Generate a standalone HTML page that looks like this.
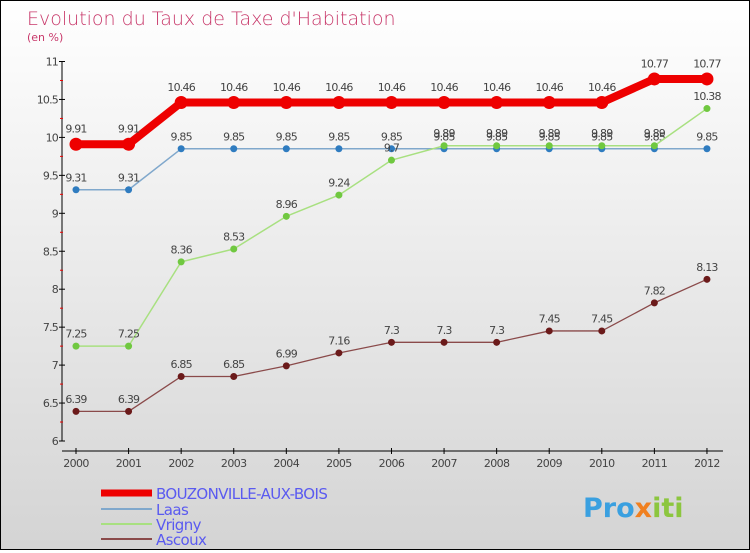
<!DOCTYPE html>
<html><head><meta charset="utf-8"><style>
body{margin:0;}
#c{width:748px;height:548px;border:1px solid #000;background:linear-gradient(#fff,#d4d4d4);position:relative;font-family:"DejaVu Sans","Liberation Sans",sans-serif;}
</style></head><body>
<div id="c">
<svg id="s" width="748" height="548" xmlns="http://www.w3.org/2000/svg">
<text x="26" y="24" font-size="19" fill="#c8386a" font-weight="300">Evolution du Taux de Taxe d'Habitation</text>
<text x="26" y="40" font-size="11" fill="#c8386a">(en %)</text>
<g id="axes"></g><g id="series"></g><g id="legend"></g>
<text x="582" y="516" font-size="27" font-weight="bold" fill="#3aa0e0">Pro<tspan fill="#f08020">x</tspan><tspan fill="#8cc63f">iti</tspan></text>
</svg></div>
<script>
const years=[2000,2001,2002,2003,2004,2005,2006,2007,2008,2009,2010,2011,2012];
const bouz=[9.91,9.91,10.46,10.46,10.46,10.46,10.46,10.46,10.46,10.46,10.46,10.77,10.77];
const laas=[9.31,9.31,9.85,9.85,9.85,9.85,9.85,9.85,9.85,9.85,9.85,9.85,9.85];
const vrigny=[7.25,7.25,8.36,8.53,8.96,9.24,9.7,9.89,9.89,9.89,9.89,9.89,10.38];
const ascoux=[6.39,6.39,6.85,6.85,6.99,7.16,7.3,7.3,7.3,7.45,7.45,7.82,8.13];
const yTicks=[6,6.5,7,7.5,8,8.5,9,9.5,10,10.5,11];
const NS="http://www.w3.org/2000/svg";
const X=i=>75+i*52.58, Y=v=>440-(v-6)*75.9;
function mk(p,t,a){const e=document.createElementNS(NS,t);for(const k in a)e.setAttribute(k,a[k]);p.appendChild(e);return e;}
const ax=document.getElementById('axes');
let e=mk(ax,'line',{x1:61,y1:Y(11),x2:61,y2:Y(6),stroke:'#000','stroke-width':1});

e=mk(ax,'line',{x1:61,y1:450,x2:X(12)+16,y2:450,stroke:'#000','stroke-width':1});

for(let v=6;v<=11.001;v+=0.25){const maj=Math.abs(v*2-Math.round(v*2))<1e-6;
mk(ax,'line',{x1:maj?58:59,y1:Y(v),x2:maj?64:62,y2:Y(v),stroke:maj?'#000':'#e00','stroke-width':1});}
yTicks.forEach(v=>{const t=mk(ax,'text',{x:57,y:Y(v)+4,'font-size':11,fill:'#444','text-anchor':'end','letter-spacing':'-0.8'});t.textContent=v;
});
years.forEach((y,i)=>{mk(ax,'line',{x1:X(i),y1:447,x2:X(i),y2:453,stroke:'#000'});
const t=mk(ax,'text',{x:X(i),y:466,'font-size':11,fill:'#444','text-anchor':'middle','letter-spacing':'-0.6'});t.textContent=y;
});
const sg=document.getElementById('series');
function series(name,vals,col,dot,w,r){
const g=mk(sg,'g',{});
const l=mk(g,'polyline',{points:vals.map((v,i)=>X(i)+','+Y(v)).join(' '),fill:'none',stroke:col,'stroke-width':w,'stroke-linejoin':'round'});

vals.forEach((v,i)=>{const c=mk(g,'circle',{cx:X(i),cy:Y(v),r:r,fill:dot});

const t=mk(g,'text',{x:X(i),y:Y(v)-r-5,'font-size':11,fill:'#444','text-anchor':'middle','letter-spacing':'-0.8'});t.textContent=v;
});}
series('ascoux',ascoux,'#8a4a4a','#6b1a1a',1.3,3.5);
series('laas',laas,'#80a8cc','#2f7cc0',1.5,3.5);
series('vrigny',vrigny,'#a8e080','#70c840',1.5,3.5);
series('bouzonville',bouz,'#ee0000','#ee0000',8,6.5);
const lg=document.getElementById('legend');
const ln=['BOUZONVILLE-AUX-BOIS','Laas','Vrigny','Ascoux'],lc=['#ee0000','#80a8cc','#a8e080','#8a4a4a'],lw=[7,2,2,2],ly=[492,508,523,538];
ln.forEach((n,i)=>{const g=mk(lg,'g',{});
mk(g,'line',{x1:100,y1:ly[i],x2:151,y2:ly[i],stroke:lc[i],'stroke-width':lw[i]});
const t=mk(g,'text',{x:155,y:ly[i]+6,'font-size':15,fill:'#5a5af0','letter-spacing':'-0.6'});t.textContent=n;});
</script></body></html>
